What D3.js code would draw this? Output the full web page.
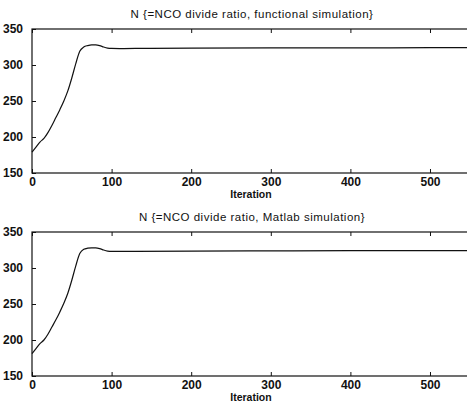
<!DOCTYPE html>
<html>
<head>
<meta charset="utf-8">
<script src="https://cdn.jsdelivr.net/npm/d3@7"></script>
<style>
  body { margin: 0; background: #fff; }
  svg text { font-family: "Liberation Sans", Arial, sans-serif; fill: #111; }
</style>
</head>
<body>
<svg id="chart" width="467" height="404"></svg>
<script>
// values
const iterations = [0, 5, 10, 15, 20, 25, 30, 35, 40, 45, 50, 55, 60, 65, 70, 75, 80, 85, 90, 95, 100, 110, 130, 200, 300, 400, 500, 550];
const functionalN = [179, 186, 193, 198, 206, 216, 227, 238, 250, 264, 282, 302, 319, 325, 327, 328, 328, 327, 325, 323.5, 323, 322.8, 323, 323.5, 323.8, 323.8, 324, 324];
const matlabN = [181, 188, 195, 200, 208, 218, 228, 239, 251, 265, 283, 303, 320, 326, 327.5, 328, 328, 327, 325, 323.5, 323, 323, 323, 323.5, 323.8, 324, 324, 324];
const titles = ["N {=NCO divide ratio, functional simulation}", "N {=NCO divide ratio, Matlab simulation}"];
const xTicks = [0, 100, 200, 300, 400, 500];
const yTicks = [150, 200, 250, 300, 350];

const svg = d3.select("#chart");

function drawPanel(top, title, values) {
    const left = 32, right = 469, height = 144;
    const x = d3.scaleLinear().domain([0, 549]).range([left, right]);
    const y = d3.scaleLinear().domain([150, 350]).range([top + height, top]);
    const g = svg.append("g");

    // frame
    g.append("rect")
        .attr("x", left).attr("y", top)
        .attr("width", right - left).attr("height", height)
        .attr("fill", "none").attr("stroke", "#111").attr("stroke-width", 1.2);

    // axes with inward ticks
    const xAxis = g.append("g").attr("transform", `translate(0,${top + height})`)
        .call(d3.axisBottom(x).tickValues(xTicks).tickSize(-4).tickPadding(4));
    const xAxisTop = g.append("g").attr("transform", `translate(0,${top})`)
        .call(d3.axisTop(x).tickValues(xTicks).tickSize(-4).tickFormat(""));
    const yAxis = g.append("g").attr("transform", `translate(${left},0)`)
        .call(d3.axisLeft(y).tickValues(yTicks).tickSize(-4).tickPadding(9));

    [xAxis, xAxisTop, yAxis].forEach(a => {
        a.select(".domain").remove();
        a.selectAll("line").attr("stroke", "#111");
        a.selectAll("text").attr("font-size", 12).attr("font-weight", "bold").attr("fill", "#111");
    });

    g.append("text")
        .attr("x", 252).attr("y", top - 11)
        .attr("text-anchor", "middle")
        .attr("font-size", 11.5)
        .attr("letter-spacing", 0.5)
        .text(title);

    g.append("text")
        .attr("x", 251).attr("y", top + height + 25)
        .attr("text-anchor", "middle")
        .attr("font-size", 10.5)
        .attr("font-weight", "bold")
        .text("Iteration");

    const line = d3.line()
        .x((d, i) => x(iterations[i]))
        .y(d => y(d))
        .curve(d3.curveMonotoneX);

    g.append("path")
        .datum(values)
        .attr("d", line)
        .attr("fill", "none")
        .attr("stroke", "#111")
        .attr("stroke-width", 1.2);
}

drawPanel(29, titles[0], functionalN);
drawPanel(232, titles[1], matlabN);
</script>
</body>
</html>
